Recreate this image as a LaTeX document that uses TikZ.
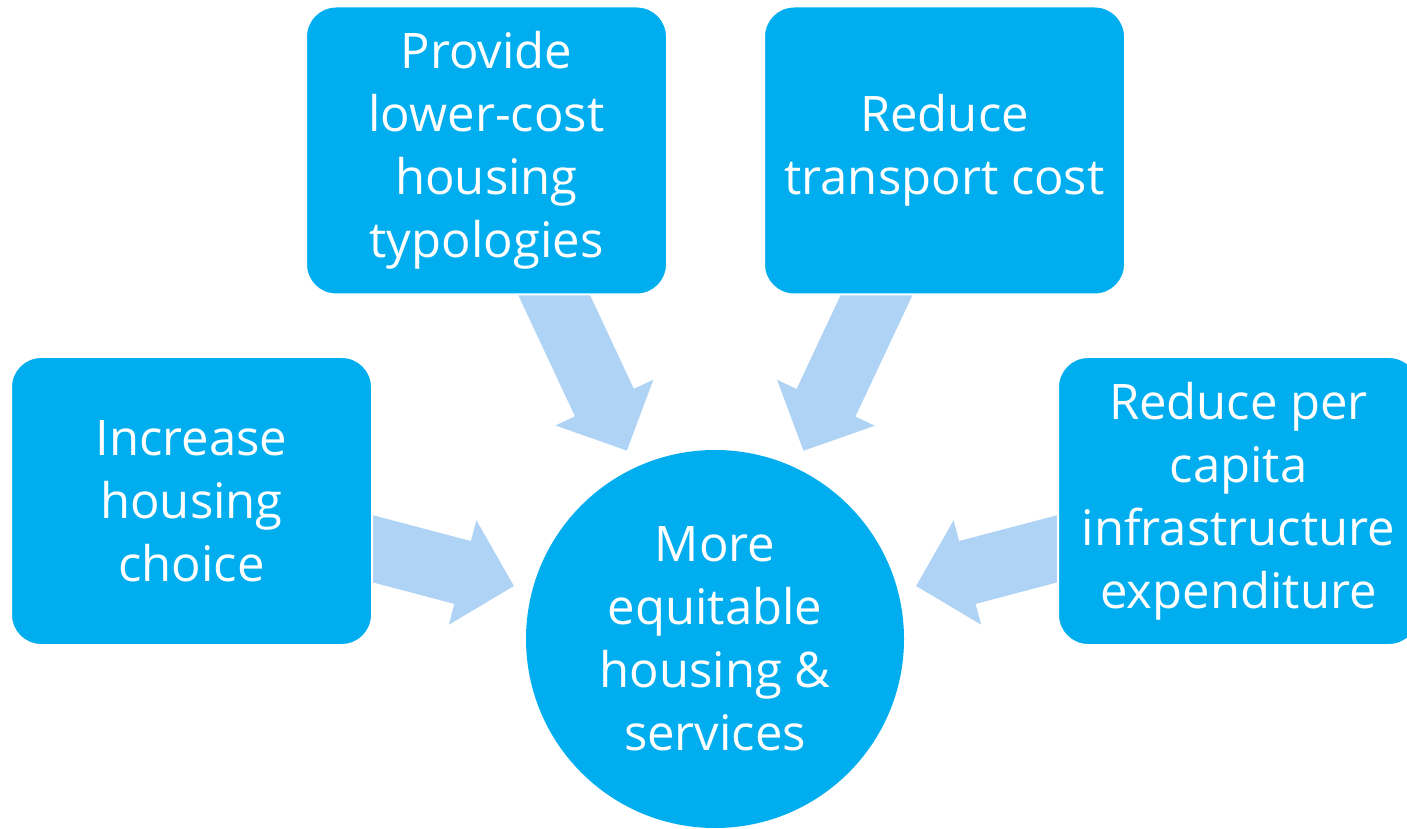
\documentclass[tikz,border=0pt]{standalone}
\usepackage{fontspec}
\setmainfont{Open Sans}
\usepackage{tikz}
\usetikzlibrary{backgrounds}

\definecolor{boxblue}{RGB}{0,174,239}
\definecolor{arrowblue}{RGB}{174,211,245}

\begin{document}
\begin{tikzpicture}[x=1pt, y=1pt,
  goal/.style={rectangle, rounded corners=30pt, fill=boxblue, draw=white, line width=2pt,
    minimum width=361pt, minimum height=288pt, inner sep=0pt,
    text=white, align=center, font=\fontsize{49}{63}\selectfont},
  hubnode/.style={circle, fill=boxblue, minimum size=378pt, inner sep=0pt,
    text=white, align=center, font=\fontsize{49}{63}\selectfont},
  fatarrow/.style={fill=arrowblue}]
\useasboundingbox (0,0) rectangle (1407,828);
\clip (0,0) rectangle (1407,828);

\node[hubnode] (hub) at (715,189) {More\\equitable\\housing \&\\services};

\node[goal] (typology) at (486.5,677.5) {Provide\\lower-cost\\housing\\typologies};
\node[goal] (transport) at (944.5,677.5) {Reduce\\transport cost};
\node[goal] (choice) at (191.5,327) {Increase\\housing\\choice};
\node[goal] (infra) at (1238.5,327) {Reduce per\\capita\\infrastructure\\expenditure};

% block arrows, pointing from each box at the hub
\begin{scope}[on background layer]
\foreach \b in {choice,typology,transport,infra} {
  \pgfmathanglebetweenpoints{\pgfpointanchor{hub}{center}}{\pgfpointanchor{\b}{center}}
  \let\ang\pgfmathresult
  \fill[fatarrow, shift={(hub.center)}, rotate=\ang]
    (208,0) -- (261,54) -- (261,32.5) -- (420,32.5) -- (420,-32.5) -- (261,-32.5) -- (261,-54) -- cycle;
}
\end{scope}

\end{tikzpicture}
\end{document}
